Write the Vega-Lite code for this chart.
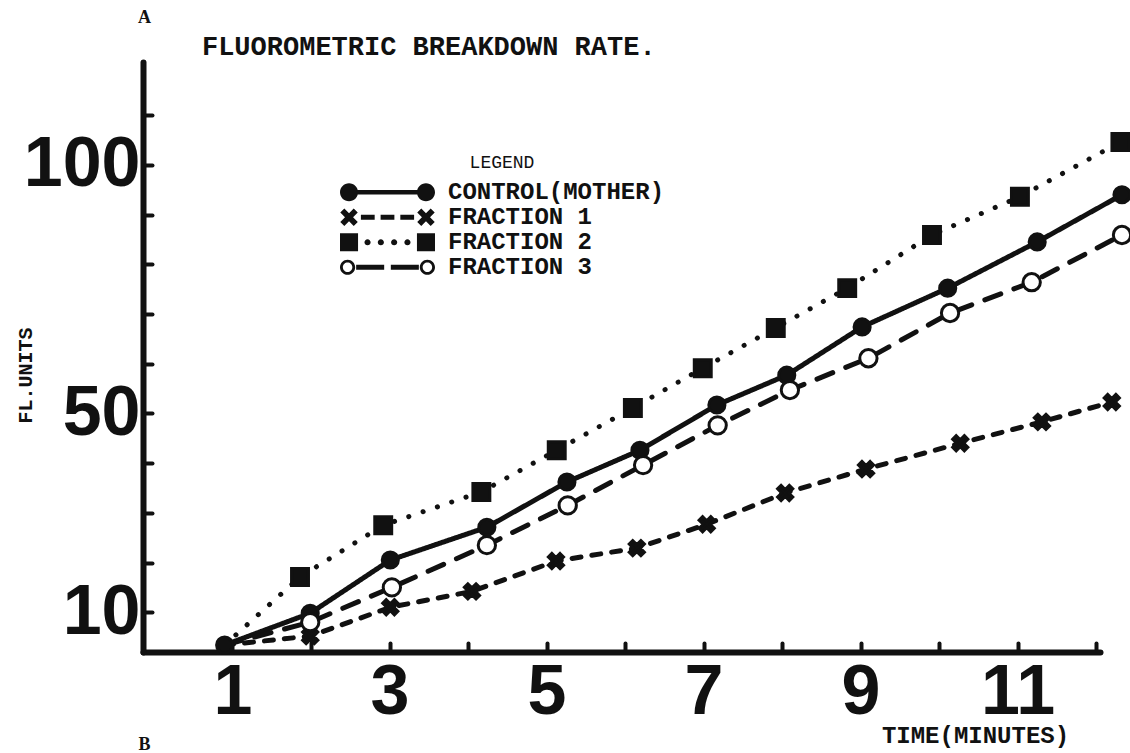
{
  "$schema": "https://vega.github.io/schema/vega-lite/v6.json",
  "width": 957,
  "height": 590,
  "autosize": "none",
  "padding": {"left": 143, "top": 62, "right": 30, "bottom": 101},
  "background": "white",
  "config": {"view": {"stroke": null}, "font": "Liberation Mono"},
  "resolve": {"scale": {"shape": "independent"}},
  "data": {"values": [
    {"series": "CONTROL(MOTHER)", "t": 0.90, "v": 3.4},
    {"series": "CONTROL(MOTHER)", "t": 1.99, "v": 9.8},
    {"series": "CONTROL(MOTHER)", "t": 3.01, "v": 20.5},
    {"series": "CONTROL(MOTHER)", "t": 4.24, "v": 27.1},
    {"series": "CONTROL(MOTHER)", "t": 5.26, "v": 36.2},
    {"series": "CONTROL(MOTHER)", "t": 6.19, "v": 42.6},
    {"series": "CONTROL(MOTHER)", "t": 7.17, "v": 51.7},
    {"series": "CONTROL(MOTHER)", "t": 8.06, "v": 57.7},
    {"series": "CONTROL(MOTHER)", "t": 9.02, "v": 67.4},
    {"series": "CONTROL(MOTHER)", "t": 10.11, "v": 75.2},
    {"series": "CONTROL(MOTHER)", "t": 11.25, "v": 84.5},
    {"series": "CONTROL(MOTHER)", "t": 12.33, "v": 94.0},
    {"series": "FRACTION 1", "t": 0.90, "v": 3.4},
    {"series": "FRACTION 1", "t": 1.99, "v": 5.2},
    {"series": "FRACTION 1", "t": 3.01, "v": 11.0},
    {"series": "FRACTION 1", "t": 4.05, "v": 14.2},
    {"series": "FRACTION 1", "t": 5.12, "v": 20.3},
    {"series": "FRACTION 1", "t": 6.15, "v": 22.9},
    {"series": "FRACTION 1", "t": 7.04, "v": 27.7},
    {"series": "FRACTION 1", "t": 8.04, "v": 34.0},
    {"series": "FRACTION 1", "t": 9.07, "v": 38.8},
    {"series": "FRACTION 1", "t": 10.27, "v": 44.0},
    {"series": "FRACTION 1", "t": 11.31, "v": 48.3},
    {"series": "FRACTION 1", "t": 12.2, "v": 52.3},
    {"series": "FRACTION 2", "t": 0.90, "v": 3.4},
    {"series": "FRACTION 2", "t": 1.86, "v": 17.1},
    {"series": "FRACTION 2", "t": 2.92, "v": 27.5},
    {"series": "FRACTION 2", "t": 4.17, "v": 34.2},
    {"series": "FRACTION 2", "t": 5.13, "v": 42.6},
    {"series": "FRACTION 2", "t": 6.10, "v": 51.1},
    {"series": "FRACTION 2", "t": 6.99, "v": 59.1},
    {"series": "FRACTION 2", "t": 7.92, "v": 67.2},
    {"series": "FRACTION 2", "t": 8.83, "v": 75.2},
    {"series": "FRACTION 2", "t": 9.91, "v": 85.9},
    {"series": "FRACTION 2", "t": 11.03, "v": 93.6},
    {"series": "FRACTION 2", "t": 12.31, "v": 104.6},
    {"series": "FRACTION 3", "t": 0.90, "v": 3.4},
    {"series": "FRACTION 3", "t": 1.99, "v": 8.0},
    {"series": "FRACTION 3", "t": 3.03, "v": 15.0},
    {"series": "FRACTION 3", "t": 4.24, "v": 23.5},
    {"series": "FRACTION 3", "t": 5.27, "v": 31.5},
    {"series": "FRACTION 3", "t": 6.23, "v": 39.6},
    {"series": "FRACTION 3", "t": 7.18, "v": 47.6},
    {"series": "FRACTION 3", "t": 8.10, "v": 54.7},
    {"series": "FRACTION 3", "t": 9.10, "v": 61.1},
    {"series": "FRACTION 3", "t": 10.14, "v": 70.2},
    {"series": "FRACTION 3", "t": 11.18, "v": 76.4},
    {"series": "FRACTION 3", "t": 12.33, "v": 85.9}
  ]},
  "layer": [
    {
      "mark": {"type": "line", "strokeCap": "round", "strokeJoin": "round", "color": "#111", "clip": false},
      "encoding": {
        "x": {"field": "t", "type": "quantitative", "scale": {"domain": [-0.14, 12.05], "nice": false, "zero": false},
          "axis": {"values": [1, 2, 3, 4, 5, 6, 7, 8, 9, 10, 11, 12], "format": "d", "labelExpr": "datum.value % 2 == 1 ? datum.label : ''", "grid": false,
            "domainWidth": 6, "domainColor": "#111", "domainCap": "round", "tickColor": "#111", "tickWidth": 4, "tickSize": -9, "tickCap": "round",
            "labelFont": "Liberation Sans", "labelFontSize": 70, "labelFontWeight": "bold", "labelColor": "#111", "labelPadding": 15, "labelFlush": false, "labelOverlap": false,
            "title": "TIME(MINUTES)", "titleFont": "Liberation Mono", "titleFontSize": 24, "titleFontWeight": "bold", "titleColor": "#111", "titleX": 832, "titleY": 83, "titleAlign": "center", "titleBaseline": "middle"}},
        "y": {"field": "v", "type": "quantitative", "scale": {"domain": [2, 120.7], "nice": false, "zero": false},
          "axis": {"values": [10, 20, 30, 40, 50, 60, 70, 80, 90, 100, 110], "format": "d", "labelExpr": "datum.value == 10 || datum.value == 50 || datum.value == 100 ? datum.label : ''", "grid": false,
            "domainWidth": 6, "domainColor": "#111", "domainCap": "round", "tickColor": "#111", "tickWidth": 4, "tickSize": -9, "tickCap": "round",
            "labelFont": "Liberation Sans", "labelFontSize": 70, "labelFontWeight": "bold", "labelColor": "#111", "labelPadding": 12, "labelBaseline": "middle", "labelFlush": false, "labelOverlap": false,
            "title": "FL.UNITS", "titleFont": "Liberation Mono", "titleFontSize": 20, "titleFontWeight": "bold", "titleColor": "#111", "titleX": -118, "titleY": 313, "titleAngle": 270, "titleAlign": "center", "titleBaseline": "middle"}},
        "strokeDash": {"field": "series", "type": "nominal",
          "scale": {"domain": ["CONTROL(MOTHER)", "FRACTION 1", "FRACTION 2", "FRACTION 3"], "range": [[1, 0], [9, 11], [0.1, 15], [17, 14]]},
          "legend": null},
        "strokeWidth": {"field": "series", "type": "nominal", "scale": {"domain": ["CONTROL(MOTHER)", "FRACTION 1", "FRACTION 2", "FRACTION 3"], "range": [5, 5, 7, 5]}, "legend": null}
      }
    },
    {
      "transform": [{"filter": "datum.series == 'CONTROL(MOTHER)' || datum.t > 1"}],
      "mark": {"type": "point", "stroke": "#111", "strokeWidth": 3, "opacity": 1, "clip": false},
      "encoding": {
        "x": {"field": "t", "type": "quantitative"},
        "y": {"field": "v", "type": "quantitative"},
        "shape": {"field": "series", "type": "nominal",
          "scale": {"domain": ["CONTROL(MOTHER)", "FRACTION 1", "FRACTION 2", "FRACTION 3"], "range": ["circle", "M0.495,-0.919L0.919,-0.495L0.424,0L0.919,0.495L0.495,0.919L0,0.424L-0.495,0.919L-0.919,0.495L-0.424,0L-0.919,-0.495L-0.495,-0.919L0,-0.424Z", "square", "circle"]},
          "legend": null},
        "fill": {"field": "series", "type": "nominal", "scale": {"domain": ["CONTROL(MOTHER)", "FRACTION 1", "FRACTION 2", "FRACTION 3"], "range": ["#111", "#111", "#111", "white"]}, "legend": null},
        "size": {"field": "series", "type": "nominal", "scale": {"domain": ["CONTROL(MOTHER)", "FRACTION 1", "FRACTION 2", "FRACTION 3"], "range": [260, 300, 300, 140]}, "legend": null}
      }
    },
    {
      "transform": [{"filter": "datum.t < 1"}],
      "mark": {"type": "point", "filled": true, "color": "#111", "opacity": 0, "clip": false},
      "encoding": {
        "x": {"field": "t", "type": "quantitative"},
        "y": {"field": "v", "type": "quantitative"},
        "shape": {"field": "series", "type": "nominal",
          "scale": {"range": [
            "M-1,0A0.19,0.19,0,1,1,-0.62,0A0.19,0.19,0,1,1,-1,0ZM0.62,0A0.19,0.19,0,1,1,1,0A0.19,0.19,0,1,1,0.62,0ZM-0.64,-0.045L0.64,-0.045L0.64,0.045L-0.64,0.045Z",
            "M-0.711,-0.184L-0.626,-0.099L-0.725,0L-0.626,0.099L-0.711,0.184L-0.81,0.085L-0.909,0.184L-0.994,0.099L-0.895,0L-0.994,-0.099L-0.909,-0.184L-0.81,-0.085ZM0.909,-0.184L0.994,-0.099L0.895,0L0.994,0.099L0.909,0.184L0.81,0.085L0.711,0.184L0.626,0.099L0.725,0L0.626,-0.099L0.711,-0.184L0.81,-0.085ZM-0.56,-0.055L-0.27,-0.055L-0.27,0.055L-0.56,0.055ZM-0.145,-0.055L0.145,-0.055L0.145,0.055L-0.145,0.055ZM0.27,-0.055L0.56,-0.055L0.56,0.055L0.27,0.055Z",
            "M-1,-0.19L-0.62,-0.19L-0.62,0.19L-1,0.19ZM0.62,-0.19L1,-0.19L1,0.19L0.62,0.19ZM-0.485,0A0.065,0.065,0,1,1,-0.355,0A0.065,0.065,0,1,1,-0.485,0ZM-0.205,0A0.065,0.065,0,1,1,-0.075,0A0.065,0.065,0,1,1,-0.205,0ZM0.075,0A0.065,0.065,0,1,1,0.205,0A0.065,0.065,0,1,1,0.075,0ZM0.355,0A0.065,0.065,0,1,1,0.485,0A0.065,0.065,0,1,1,0.355,0Z",
            "M-1,0A0.16,0.16,0,1,1,-0.68,0A0.16,0.16,0,1,1,-1,0ZM-0.94,0A0.1,0.1,0,1,0,-0.74,0A0.1,0.1,0,1,0,-0.94,0ZM0.68,0A0.16,0.16,0,1,1,1,0A0.16,0.16,0,1,1,0.68,0ZM0.74,0A0.1,0.1,0,1,0,0.94,0A0.1,0.1,0,1,0,0.74,0ZM-0.66,-0.055L-0.07,-0.055L-0.07,0.055L-0.66,0.055ZM0.07,-0.055L0.66,-0.055L0.66,0.055L0.07,0.055Z"
          ]},
          "legend": {"title": "LEGEND", "orient": "none", "legendX": 197, "legendY": 92, "padding": 0, "symbolSize": 9025, "clipHeight": 24.5, "rowPadding": 0,
            "symbolOpacity": 1, "symbolFillColor": "#111", "symbolStrokeWidth": 0,
            "labelFont": "Liberation Mono", "labelFontSize": 24, "labelFontWeight": "bold", "labelColor": "#111", "labelOffset": 13, "labelLimit": 0,
            "titleFont": "Liberation Mono", "titleFontSize": 18, "titleFontWeight": "normal", "titleAnchor": "middle", "titlePadding": 8, "titleColor": "#111",
            "encode": {"symbols": {"update": {
              "fill": {"value": "#111"},
              "stroke": {"value": "transparent"},
              "strokeWidth": {"value": 0},
              "size": {"value": 9025},
              "opacity": {"value": 1}
            }}}}}
      }
    },
    {
      "data": {"values": [{}]},
      "mark": {"type": "text", "text": "FLUOROMETRIC BREAKDOWN RATE.", "align": "left", "baseline": "middle", "font": "Liberation Mono", "fontSize": 27, "fontWeight": "bold", "color": "#111"},
      "encoding": {"x": {"datum": 0.611}, "y": {"datum": 123.75}}
    },
    {
      "data": {"values": [{}]},
      "mark": {"type": "text", "text": "A", "font": "Liberation Serif", "fontSize": 18, "fontWeight": "bold", "color": "#111"},
      "encoding": {"x": {"datum": -0.12}, "y": {"datum": 129.6}}
    },
    {
      "data": {"values": [{}]},
      "mark": {"type": "text", "text": "B", "font": "Liberation Serif", "fontSize": 18, "fontWeight": "bold", "color": "#111"},
      "encoding": {"x": {"datum": -0.12}, "y": {"datum": -16.8}}
    }
  ]
}
